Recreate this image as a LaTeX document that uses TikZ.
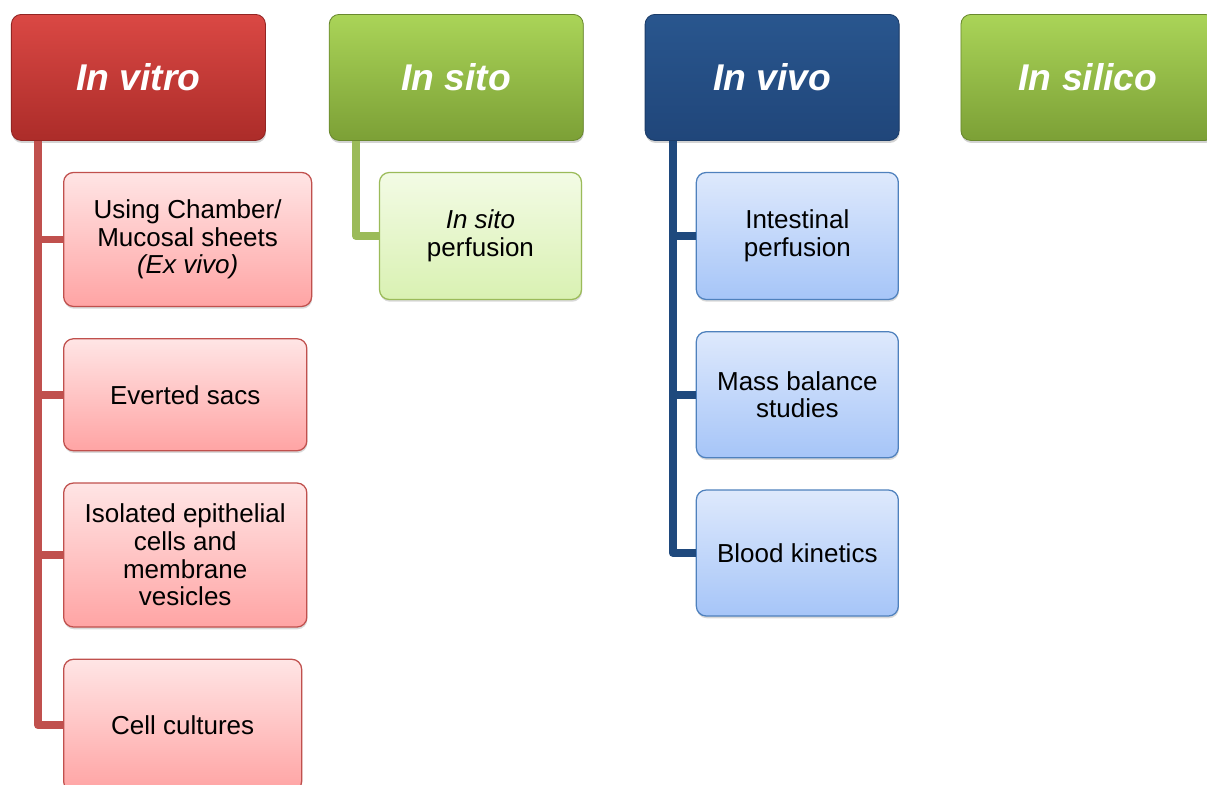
\documentclass[tikz,border=0pt]{standalone}
\usepackage{fontspec}
\setmainfont{Liberation Sans}
\usetikzlibrary{positioning,shadows}

\definecolor{vitroTop}{RGB}{218,72,68}
\definecolor{vitroBot}{RGB}{172,44,41}
\definecolor{vitroLine}{RGB}{192,80,77}
\definecolor{vitroLight}{RGB}{255,229,229}
\definecolor{vitroPink}{RGB}{255,164,164}
\definecolor{greenTop}{RGB}{170,212,88}
\definecolor{greenBot}{RGB}{124,160,54}
\definecolor{greenLine}{RGB}{155,187,89}
\definecolor{greenLight}{RGB}{243,251,229}
\definecolor{greenPale}{RGB}{217,241,178}
\definecolor{vivoTop}{RGB}{41,86,142}
\definecolor{vivoBot}{RGB}{32,70,122}
\definecolor{vivoLine}{RGB}{31,73,125}
\definecolor{vivoBorder}{RGB}{79,129,189}
\definecolor{vivoLight}{RGB}{222,233,252}
\definecolor{vivoPale}{RGB}{166,197,248}

\tikzset{
  headbox/.style={rounded corners=7pt, minimum width=6.35cm, minimum height=3.15cm, align=center,
    text=white, font=\fontsize{26.5}{30}\selectfont\bfseries\itshape, line width=0.6pt,
    drop shadow={opacity=0.35, shadow xshift=0.4pt, shadow yshift=-1.8pt}},
  itembox/.style={rounded corners=7pt, align=center, font=\fontsize{18.5}{19.6}\selectfont,
    line width=0.9pt, drop shadow={opacity=0.3, shadow xshift=0.4pt, shadow yshift=-1.6pt}},
  trunk/.style={line width=5.5pt, line join=round},
  vitrohead/.style={headbox, top color=vitroTop, bottom color=vitroBot, draw=vitroBot!85!black},
  greenhead/.style={headbox, top color=greenTop, bottom color=greenBot, draw=greenBot!85!black},
  vivohead/.style={headbox, top color=vivoTop, bottom color=vivoBot, draw=vivoBot!85!black},
  vitroitem/.style={itembox, top color=vitroLight, bottom color=vitroPink, draw=vitroLine},
  situitem/.style={itembox, top color=greenLight, bottom color=greenPale, draw=greenLine},
  vivoitem/.style={itembox, top color=vivoLight, bottom color=vivoPale, draw=vivoBorder}
}

\begin{document}
\begin{tikzpicture}
\useasboundingbox (0,0) rectangle (30.175,-19.6);

% column heads
\node (vitro) [vitrohead, anchor=north west] at (0.275,-0.35) {In vitro};
\node (sito) [greenhead, right=1.575cm of vitro] {In sito};
\node (vivo) [vivohead, right=1.525cm of sito] {In vivo};
\node (silico) [greenhead, right=1.525cm of vivo] {In silico};

% in vitro
\node (ussing) [vitroitem, below=0.775cm of vitro.south west, anchor=north west, xshift=1.3cm, minimum width=6.2cm, minimum height=3.35cm] {Using Chamber/\\Mucosal sheets\\\textit{(Ex vivo)}};
\node (sacs) [vitroitem, below=0.775cm of ussing.south west, anchor=north west, minimum width=6.08cm, minimum height=2.8cm] {Everted sacs};
\node (cells) [vitroitem, below=0.775cm of sacs.south west, anchor=north west, minimum width=6.08cm, minimum height=3.6cm] {Isolated epithelial\\cells and\\membrane\\vesicles};
\node (culture) [vitroitem, below=0.775cm of cells.south west, anchor=north west, minimum width=5.95cm, minimum height=3.3cm] {Cell cultures};

% in sito
\node (perf) [situitem, below=0.775cm of sito.south west, anchor=north west, xshift=1.25cm, minimum width=5.05cm, minimum height=3.175cm] {\textit{In sito}\\perfusion};

% in vivo
\node (intest) [vivoitem, below=0.775cm of vivo.south west, anchor=north west, xshift=1.275cm, minimum width=5.05cm, minimum height=3.175cm] {Intestinal\\perfusion};
\node (mass) [vivoitem, below=0.775cm of intest.south west, anchor=north west, minimum width=5.05cm, minimum height=3.15cm] {Mass balance\\studies};
\node (blood) [vivoitem, below=0.775cm of mass.south west, anchor=north west, minimum width=5.05cm, minimum height=3.15cm] {Blood kinetics};

% connectors
\foreach \item in {ussing,sacs,cells,culture}
  \draw[trunk, vitroLine] ([xshift=0.675cm]vitro.south west) |- (\item.west);
\draw[trunk, greenLine] ([xshift=0.675cm]sito.south west) |- (perf.west);
\foreach \item in {intest,mass,blood}
  \draw[trunk, vivoLine] ([xshift=0.7cm]vivo.south west) |- (\item.west);
\end{tikzpicture}
\end{document}
